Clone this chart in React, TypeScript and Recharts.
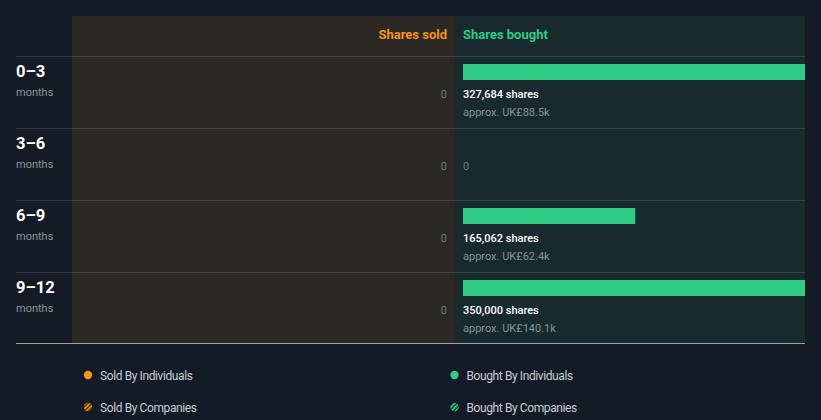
import React from "react";
import { BarChart, Bar, XAxis, YAxis, LabelList } from "recharts";

const periods = ["0–3", "3–6", "6–9", "9–12"];
const periodUnit = "months";
const sharesSold = [0, 0, 0, 0];
const sharesBought = [327684, 0, 165062, 350000];
const boughtValueK = [88.5, 0, 62.4, 140.1];
const axisMax = 327684;
const legendItems = [
  { label: "Sold By Individuals", color: "#f7931e", hatched: false },
  { label: "Bought By Individuals", color: "#2ecc84", hatched: false },
  { label: "Sold By Companies", color: "#f7931e", hatched: true },
  { label: "Bought By Companies", color: "#2ecc84", hatched: true },
];

const data = periods.map((p, i) => ({
  period: p,
  sold: sharesSold[i],
  bought: sharesBought[i],
  info: `${sharesBought[i]}|${boughtValueK[i]}`,
}));

const W = 821;
const H = 420;
const FONT = "Roboto, 'Noto Sans', sans-serif";
const ORANGE = "#f7931e";
const GREEN = "#2ecc84";

const RowTick = (props: any) => {
  const { y, payload, index } = props;
  const i = typeof index === "number" ? index : periods.indexOf(payload.value);
  return (
    <g>
      <text x={16} y={y + 4.5} fill="#ffffff" fontSize={16.5} fontWeight={700} fontFamily={FONT}>
        {payload.value}
      </text>
      <text x={16} y={y + 24} fill="#8f959c" fontSize={11} fontFamily={FONT}>
        {periodUnit}
      </text>
      <text x={447} y={y + 26} textAnchor="end" fill="#6f767c" fontSize={11} fontFamily={FONT}>
        {sharesSold[i].toLocaleString("en-US")}
      </text>
      {sharesBought[i] === 0 && (
        <text x={463} y={y + 26} fill="#6f767c" fontSize={11} fontFamily={FONT}>
          0
        </text>
      )}
    </g>
  );
};

const BoughtLabel = (props: any) => {
  const { x, y, height, value } = props;
  const [sv, kv] = String(value).split("|");
  const v = Number(sv);
  const k = Number(kv);
  if (!v) return null;
  const base = y + height + 18;
  return (
    <g>
      <text x={x} y={base} fill="#ffffff" fontSize={11} fontWeight={500} fontFamily={FONT}>
        {v.toLocaleString("en-US")} shares
      </text>
      <text x={x} y={base + 18} fill="#8a9196" fontSize={11} fontFamily={FONT}>
        approx. UK£{k.toFixed(1)}k
      </text>
    </g>
  );
};

const rowLines = [56.5, 128.5, 200.5, 272.5];

const Background = () => (
  <svg width={W} height={H} style={{ position: "absolute", left: 0, top: 0 }}>
    <defs>
      <pattern id="hatchO" patternUnits="userSpaceOnUse" width="3" height="3" patternTransform="rotate(45)">
        <rect width="3" height="3" fill="#3a2a14" />
        <rect width="1.6" height="3" fill={ORANGE} />
      </pattern>
      <pattern id="hatchG" patternUnits="userSpaceOnUse" width="3" height="3" patternTransform="rotate(45)">
        <rect width="3" height="3" fill="#173628" />
        <rect width="1.6" height="3" fill={GREEN} />
      </pattern>
    </defs>
    <rect x={0} y={0} width={W} height={H} fill="#151b26" />
    <rect x={72} y={16} width={383} height={327} fill="#2c2823" />
    <rect x={455} y={16} width={350} height={327} fill="#182a2e" />
    {rowLines.map((ly) => (
      <line key={ly} x1={16} x2={805} y1={ly} y2={ly} stroke="#ffffff" strokeOpacity={0.13} />
    ))}
    <line x1={16} x2={805} y1={343.5} y2={343.5} stroke="#9ea3a8" />
    <text x={447} y={39} textAnchor="end" fill={ORANGE} fontSize={13} fontWeight={700} fontFamily={FONT}>
      Shares sold
    </text>
    <text x={463} y={39} fill={GREEN} fontSize={13} fontWeight={700} fontFamily={FONT}>
      Shares bought
    </text>
    {legendItems.map((it, i) => {
      const cx = i % 2 === 0 ? 88 : 454.5;
      const cy = i < 2 ? 375 : 407;
      return (
        <g key={it.label}>
          <circle cx={cx} cy={cy} r={4.2} fill={it.hatched ? (it.color === ORANGE ? "url(#hatchO)" : "url(#hatchG)") : it.color} />
          <text x={cx + 12} y={cy + 4.5} fill="#c9cdd1" fontSize={12} fontFamily={FONT} letterSpacing={-0.4}>
            {it.label}
          </text>
        </g>
      );
    })}
  </svg>
);

export default function App() {
  return (
    <div style={{ position: "absolute", left: 0, top: 0, width: W, height: H, overflow: "hidden" }}>
      <Background />
      <div style={{ position: "absolute", left: 0, top: 0 }}>
        <BarChart
          width={W}
          height={H}
          data={data}
          layout="vertical"
          margin={{ top: 36, right: 16, bottom: 96, left: 16 }}
          barCategoryGap={0}
        >
          <XAxis type="number" hide domain={[0, axisMax]} allowDataOverflow />
          <YAxis
            type="category"
            dataKey="period"
            width={447}
            axisLine={false}
            tickLine={false}
            tick={<RowTick />}
            interval={0}
          />
          <Bar dataKey="bought" fill={GREEN} barSize={16} isAnimationActive={false}>
            <LabelList dataKey="info" content={<BoughtLabel />} />
          </Bar>
        </BarChart>
      </div>
    </div>
  );
}
